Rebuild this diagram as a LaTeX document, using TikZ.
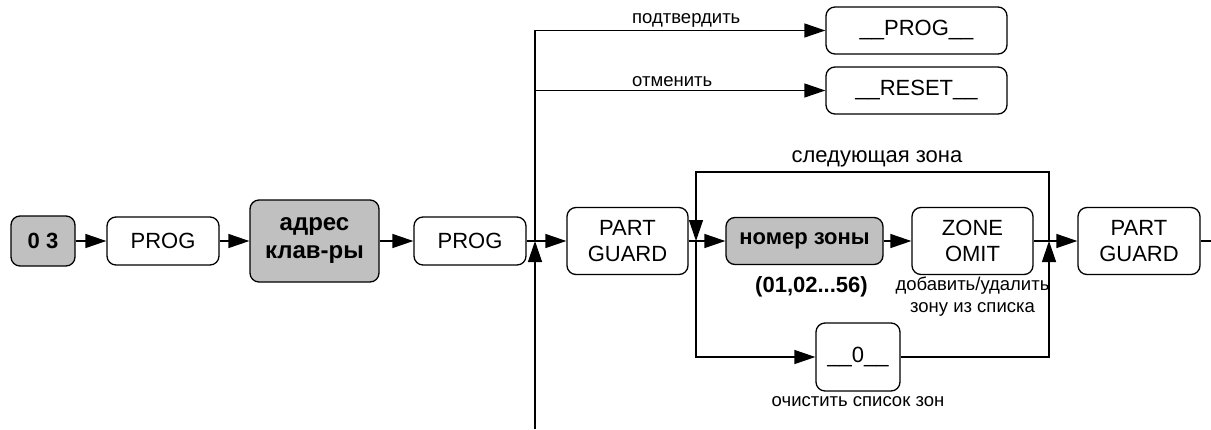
\documentclass[tikz,border=0pt]{standalone}
\usepackage{fontspec}
\setmainfont{Liberation Sans}
\usetikzlibrary{positioning,arrows.meta,calc}
\definecolor{keyfill}{HTML}{C0C0C0}
\definecolor{ink}{HTML}{000000}

\begin{document}
\begin{tikzpicture}[x=1pt,y=-1pt,
  box/.style={draw=ink,line width=1.3pt,rounded corners=9pt,fill=white,align=center,inner sep=0pt,font=\fontsize{22}{26}\selectfont},
  keybox/.style={box,fill=keyfill,font=\fontsize{22}{26}\selectfont\bfseries},
  wire/.style={draw=ink,line width=1.3pt},
  arr/.style={wire,-{Triangle[length=21pt,width=14pt]}},
  lbl/.style={inner sep=0pt,font=\fontsize{18.5}{22}\selectfont}]
\useasboundingbox (0,0) rectangle (1211,429);
\node[keybox,minimum width=64,minimum height=50] (k03) at (43,241){0 3};
\node[box,minimum width=112,minimum height=48] (prog1) at (163,241){PROG};
\node[keybox,minimum width=129,minimum height=82,font=\fontsize{24}{28}\selectfont\bfseries] (addr) at (314.5,241){адрес\\клав-ры};
\node[box,minimum width=112,minimum height=48] (prog2) at (470,241){PROG};
\node[box,minimum width=121,minimum height=67] (guard1) at (627.5,241){PART\\GUARD};
\node[keybox,minimum width=157,minimum height=47] (zone) at (804.5,241){номер зоны};
\node[box,minimum width=121,minimum height=67] (omit) at (972.5,241){ZONE\\OMIT};
\node[box,minimum width=122,minimum height=67] (guard2) at (1139,241){PART\\GUARD};
\node[box,minimum width=181,minimum height=47] (progok) at (916.5,30.5){\_\_PROG\_\_};
\node[box,minimum width=181,minimum height=47] (reset) at (916.5,90.5){\_\_RESET\_\_};
\node[box,minimum width=84,minimum height=68] (clear) at (858,357){\_\_0\_\_};

% junctions
\coordinate (j) at (535,241);
\coordinate (jbot) at (535,429);
\coordinate (lj) at (696,241);
\coordinate (rj) at (1049,241);
\coordinate (lt) at (696,172);
\coordinate (rt) at (1049,172);
\coordinate (exit) at (1211,241);

\draw[arr] (k03) -- (prog1);
\draw[arr] (prog1) -- (addr);
\draw[arr] (addr) -- (prog2);
\draw[arr] (prog2) -- (guard1);
\draw[arr] (jbot) -- (j);
\draw[arr] (j) |- (progok.west);
\draw[arr] (j |- reset) -- (reset.west);
\draw[arr] (guard1) -- (zone);
\draw[arr] (zone) -- (omit);
\draw[arr] (omit) -- (guard2);
\draw[wire] (guard2) -- (exit);
\draw[arr] (rj) -- (rt) -- (lt) -- (lj);
\draw[arr] (lj) |- (clear.west);
\draw[arr] (clear.east) -| (rj);

% labels
\node[lbl,anchor=south west] (lok) at (632,28){подтвердить};
\node[lbl,anchor=south west] (lcancel) at (632,87){отменить};
\node[lbl,font=\fontsize{22}{26}\selectfont] (lnext) at (877,159){следующая зона};
\node[lbl,font=\fontsize{22}{26}\selectfont\bfseries] (lrange) at (811.5,287){(01,02...56)};
\node[lbl,align=center] (lomit) at (972.5,297){добавить/удалить\\зону из списка};
\node[lbl] (lclear) at (858,402){очистить список зон};
\end{tikzpicture}
\end{document}
